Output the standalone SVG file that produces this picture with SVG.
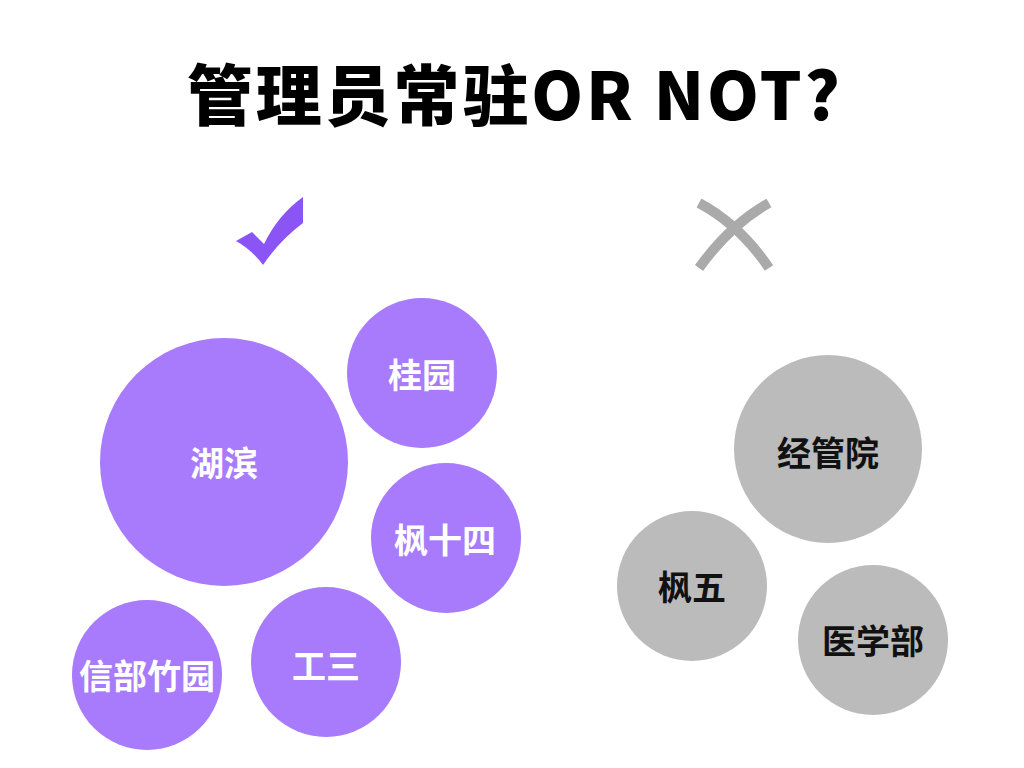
<svg xmlns="http://www.w3.org/2000/svg" width="1024" height="768" viewBox="0 0 1024 768">
<style>
.title{font-family:"Noto Sans CJK SC","Noto Sans",sans-serif;font-weight:900;font-size:66px;fill:#000}
.p{fill:#A77BFC}
.g{fill:#BBBBBB}
.tw{font-family:"Noto Sans CJK SC",sans-serif;font-weight:700;font-size:34px;fill:#fff;text-anchor:middle;dominant-baseline:central}
.tb{font-family:"Noto Sans CJK SC",sans-serif;font-weight:700;font-size:34px;fill:#111;text-anchor:middle;dominant-baseline:central}
</style>
<rect width="1024" height="768" fill="#fff"/>
<text id="title" class="title" x="187" y="120" textLength="653" lengthAdjust="spacing">管理员常驻OR NOT?</text>
<g id="check">
<path d="M236,241 L252,232 L264,244 Q278,215 303,197 L303,223 Q280,240 263,265 Q252,250 236,241 Z" fill="#8B55F6"/>
</g>
<g id="cross" fill="none" stroke="#AAAAAA" stroke-width="10" stroke-linecap="butt">
<path d="M699,203 Q740,225 769,268"/>
<path d="M769,203 Q730,225 699,268"/>
</g>
<g id="node-hubin"><circle class="p" cx="224" cy="462" r="124"/><text class="tw" x="224" y="461">湖滨</text></g>
<g id="node-guiyuan"><circle class="p" cx="422" cy="373" r="75"/><text class="tw" x="422" y="373">桂园</text></g>
<g id="node-feng14"><circle class="p" cx="446" cy="538" r="75"/><text class="tw" x="445" y="538">枫十四</text></g>
<g id="node-gong3"><circle class="p" cx="326" cy="662" r="75"/><text class="tw" x="326" y="664">工三</text></g>
<g id="node-xinbu"><circle class="p" cx="147" cy="675" r="75"/><text class="tw" x="147" y="674">信部竹园</text></g>
<g id="node-jingguan"><circle class="g" cx="828" cy="449" r="94"/><text class="tb" x="828" y="451">经管院</text></g>
<g id="node-feng5"><circle class="g" cx="692" cy="586" r="75"/><text class="tb" x="692" y="585">枫五</text></g>
<g id="node-yixue"><circle class="g" cx="873" cy="640" r="75"/><text class="tb" x="873" y="639">医学部</text></g>
<g id="connectors"></g>
</svg>
